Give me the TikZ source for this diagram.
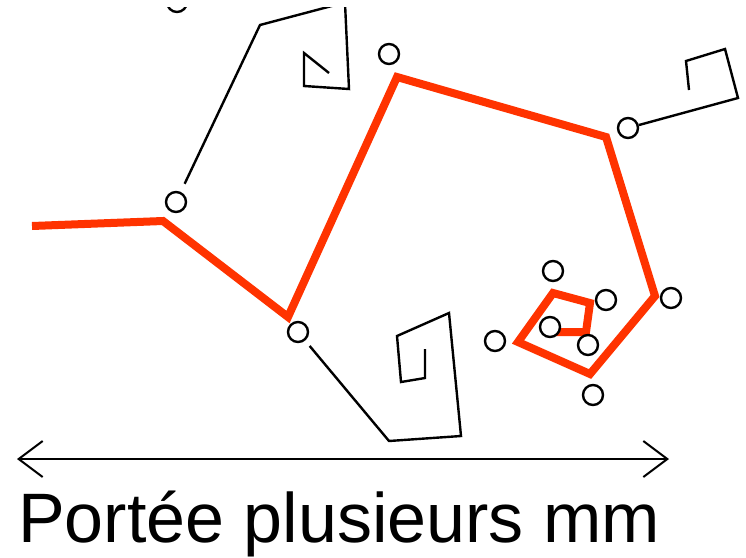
\documentclass[tikz,border=0pt]{standalone}
\usepackage{fontspec}
\setmainfont{Liberation Sans}
\usetikzlibrary{arrows.meta}
\definecolor{chainred}{RGB}{255,51,0}

\begin{document}
\begin{tikzpicture}[
    x=1pt, y=-1pt,
    bead/.style={circle, draw=black, fill=white, line width=2.4pt,
                 minimum size=20pt, inner sep=0pt},
    chain/.style={draw=chainred, line width=8pt, line join=miter},
    arm/.style={draw=black, line width=2.4pt, line join=miter},
    span/.style={{Straight Barb[length=24pt, width=36pt]}-{Straight Barb[length=24pt, width=36pt]},
                 line width=2pt}
]
    \useasboundingbox (0,0) rectangle (746,557);
    \clip (0,7) rectangle (746,557);

    % main chain
    \coordinate (m1) at (32,226);
    \coordinate (m2) at (163,221);
    \coordinate (m3) at (288,317);
    \coordinate (m4) at (397,77);
    \coordinate (m5) at (606,137);
    \coordinate (m6) at (655,296);
    \coordinate (m7) at (590,374);
    \coordinate (m8) at (518,342);
    \coordinate (m9) at (553,293);
    \coordinate (m10) at (590,303);
    \coordinate (m11) at (586,332);
    \coordinate (m12) at (556,332);
    \draw[chain] (m1) -- (m2) -- (m3) -- (m4) -- (m5) -- (m6) -- (m7)
                 -- (m8) -- (m9) -- (m10) -- (m11) -- (m12);

    % beads
    \node[bead] (b0) at (177,2) {};
    \node[bead] (b1) at (176,202) {};
    \node[bead] (b2) at (298,332) {};
    \node[bead] (b3) at (389,54) {};
    \node[bead] (b4) at (628,128) {};
    \node[bead] (b5) at (553,271) {};
    \node[bead] (b6) at (606,300) {};
    \node[bead] (b7) at (671,298) {};
    \node[bead] (b8) at (550,327) {};
    \node[bead] (b9) at (495,341) {};
    \node[bead] (b10) at (588,345) {};
    \node[bead] (b11) at (593,395) {};

    % side arms
    \coordinate (a1) at (260,25);
    \coordinate (a2) at (343,3);
    \coordinate (a3) at (345,3);
    \coordinate (a4) at (349,89);
    \coordinate (a5) at (304,86);
    \coordinate (a6) at (304,53);
    \coordinate (a7) at (329,73);
    \draw[arm, shorten <=9pt] (b1) -- (a1) -- (a2) -- (a3) -- (a4) -- (a5) -- (a6) -- (a7);

    \coordinate (c1) at (389,441);
    \coordinate (c2) at (461,436);
    \coordinate (c3) at (449,313);
    \coordinate (c4) at (397,336);
    \coordinate (c5) at (401,382);
    \coordinate (c6) at (425,378);
    \coordinate (c7) at (425,349);
    \draw[arm, shorten <=7pt] (b2) -- (c1) -- (c2) -- (c3) -- (c4) -- (c5) -- (c6) -- (c7);

    \coordinate (d1) at (738,98);
    \coordinate (d2) at (725,49);
    \coordinate (d3) at (686,61);
    \coordinate (d4) at (689,90);
    \draw[arm] (b4) -- (d1) -- (d2) -- (d3) -- (d4);

    % span
    \coordinate (spanL) at (17,459);
    \coordinate (spanR) at (669,459);
    \draw[span] (spanL) -- (spanR);
    \node[anchor=base west, inner sep=0pt, font=\fontsize{70}{84}\selectfont]
        (label) at (18,542) {Portée plusieurs mm};
\end{tikzpicture}
\end{document}
